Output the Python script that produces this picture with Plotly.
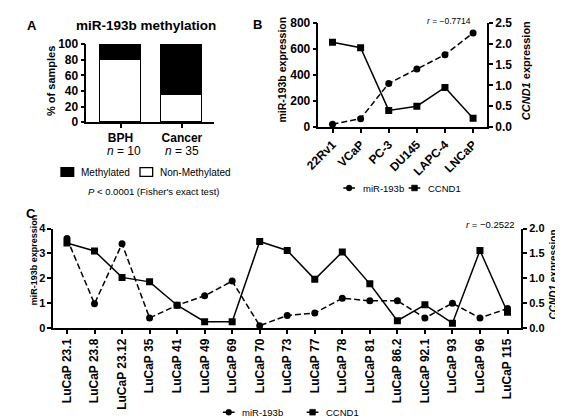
import plotly.graph_objects as go

W, H = 563, 418
FONT = "Liberation Sans, Arial, sans-serif"

# ---- Panel A data ----
groups_a = ["BPH", "Cancer"]
n_a = [10, 35]
methylated_pct = [20.0, 65.7]
non_methylated_pct = [80.0, 34.3]

# ---- Panel B data ----
cell_lines = ["22Rv1", "VCaP", "PC-3", "DU145", "LAPC-4", "LNCaP"]
mir_b = [22, 65, 335, 445, 555, 722]
ccnd1_b = [2.03, 1.90, 0.40, 0.50, 0.95, 0.21]

# ---- Panel C data ----
xenografts = ["LuCaP 23.1", "LuCaP 23.8", "LuCaP 23.12", "LuCaP 35", "LuCaP 41",
              "LuCaP 49", "LuCaP 69", "LuCaP 70", "LuCaP 73", "LuCaP 77",
              "LuCaP 78", "LuCaP 81", "LuCaP 86.2", "LuCaP 92.1", "LuCaP 93",
              "LuCaP 96", "LuCaP 115"]
mir_c = [3.60, 0.98, 3.39, 0.41, 0.92, 1.30, 1.89, 0.10, 0.51, 0.61,
         1.20, 1.10, 1.10, 0.41, 1.00, 0.41, 0.79]
ccnd1_c = [1.71, 1.55, 1.02, 0.93, 0.46, 0.13, 0.13, 1.74, 1.56, 0.98,
           1.53, 0.89, 0.15, 0.47, 0.10, 1.56, 0.32]


def PX(x):
    return x / W


def PY(y):
    return 1 - y / H


fig = go.Figure()

# Panel A bars
fig.add_trace(go.Bar(x=groups_a, y=non_methylated_pct, width=0.667,
                     marker=dict(color="white", line=dict(color="black", width=1.4)),
                     xaxis="x", yaxis="y", showlegend=False))
fig.add_trace(go.Bar(x=groups_a, y=methylated_pct, width=0.667,
                     marker=dict(color="black", line=dict(color="black", width=1.4)),
                     xaxis="x", yaxis="y", showlegend=False))

DASH = "6px,3px"
# Panel B
fig.add_trace(go.Scatter(x=cell_lines, y=mir_b, mode="lines+markers",
                         line=dict(color="black", width=1.5, dash=DASH),
                         marker=dict(symbol="circle", size=7, color="black"),
                         xaxis="x2", yaxis="y2", showlegend=False))
fig.add_trace(go.Scatter(x=cell_lines, y=ccnd1_b, mode="lines+markers",
                         line=dict(color="black", width=1.5),
                         marker=dict(symbol="square", size=7, color="black"),
                         xaxis="x2", yaxis="y3", showlegend=False))
# Panel C
fig.add_trace(go.Scatter(x=xenografts, y=mir_c, mode="lines+markers",
                         line=dict(color="black", width=1.5, dash=DASH),
                         marker=dict(symbol="circle", size=7, color="black"),
                         xaxis="x3", yaxis="y4", showlegend=False))
fig.add_trace(go.Scatter(x=xenografts, y=ccnd1_c, mode="lines+markers",
                         line=dict(color="black", width=1.5),
                         marker=dict(symbol="square", size=7, color="black"),
                         xaxis="x3", yaxis="y5", showlegend=False))

axis_common = dict(showline=True, linecolor="black", linewidth=1.5, ticks="outside",
                   ticklen=4, tickwidth=1.5, tickcolor="black", showgrid=False,
                   zeroline=False, fixedrange=True)
tickf = dict(family=FONT, size=12, color="black", weight="bold")
tickf_c = dict(family=FONT, size=11, color="black", weight="bold")

fig.update_layout(
    width=W, height=H, margin=dict(l=0, r=0, t=0, b=0),
    paper_bgcolor="white", plot_bgcolor="white", barmode="stack", bargap=0,
    showlegend=False, font=dict(family=FONT, color="black"),
    xaxis=dict(domain=[PX(66), PX(197)], anchor="y", range=[-0.556, 1.524],
               tickfont=tickf, **axis_common),
    yaxis=dict(domain=[PY(111), PY(30)], anchor="x", range=[0, 100], dtick=20,
               tickfont=tickf, **axis_common),
    xaxis2=dict(domain=[PX(304), PX(477)], anchor="y2", range=[-0.5, 5.5],
                tickangle=-45, tickfont=tickf, **axis_common),
    yaxis2=dict(domain=[PY(116), PY(8)], anchor="x2", range=[0, 800], dtick=200,
                tickfont=tickf, **axis_common),
    yaxis3=dict(domain=[PY(116), PY(8)], anchor="x2", overlaying="y2", side="right",
                range=[0, 2.5], dtick=0.5, tickformat=".1f", tickfont=tickf, **axis_common),
    xaxis3=dict(domain=[PX(32), PX(512)], anchor="y4", range=[-0.5, 16.5],
                tickangle=-90, tickfont=tickf, **axis_common),
    yaxis4=dict(domain=[PY(324), PY(221)], anchor="x3", range=[0, 4], dtick=1,
                tickfont=tickf_c, **axis_common),
    yaxis5=dict(domain=[PY(324), PY(221)], anchor="x3", overlaying="y4", side="right",
                range=[0, 2], dtick=0.5, tickformat=".1f", tickfont=tickf_c, **axis_common),
)

ann = []


def text(x, y, s, size, bold=False, xanchor="center", angle=0):
    ann.append(dict(x=PX(x), y=PY(y), xref="paper", yref="paper", text=s,
                    showarrow=False, xanchor=xanchor, yanchor="middle", textangle=angle,
                    font=dict(family=FONT, size=size, color="black",
                              weight="bold" if bold else "normal")))


# Panel letters and titles
text(10, 11, "A", 13, bold=True)
text(242, 10, "B", 13, bold=True)
text(9, 205, "C", 13, bold=True)
text(127, 11, "miR-193b methylation", 13.5, bold=True)

# Axis titles
text(29, 68, "% of samples", 11, bold=True, angle=-90)
text(267, 56, "miR-193b expression", 10.5, bold=True, angle=-90)
text(517, 58, "<i>CCND1</i> expression", 11, bold=True, angle=-90)
text(12, 253, "miR-193b expression", 9, bold=True, angle=-90)
text(545, 268, "<i>CCND1</i> expression", 10, bold=True, angle=-90)

# n labels
text(105, 141, f"<i>n</i> = {n_a[0]}", 12)
text(164, 141, f"<i>n</i> = {n_a[1]}", 12)

# correlation labels
text(438, 6, "<i>r</i> = \u22120.7714", 8.5)
text(480, 217, "<i>r</i> = \u22120.2522", 9.5)

# P value
text(135, 183, "<i>P</i> &lt; 0.0001 (Fisher's exact test)", 9.5)

shapes = []
# Legend A
shapes.append(dict(type="rect", xref="paper", yref="paper", x0=PX(40), x1=PX(53),
                   y0=PY(167), y1=PY(158), fillcolor="black", line=dict(color="black", width=1.3)))
text(58, 162.5, "Methylated", 10, xanchor="left")
shapes.append(dict(type="rect", xref="paper", yref="paper", x0=PX(121), x1=PX(134),
                   y0=PY(167), y1=PY(158), fillcolor="white", line=dict(color="black", width=1.3)))
text(139, 162.5, "Non-Methylated", 10, xanchor="left")


def legend_item(cx, cy, symbol, label, size=9.5):
    shapes.append(dict(type="line", xref="paper", yref="paper", x0=PX(cx - 6), x1=PX(cx + 6),
                       y0=PY(cy), y1=PY(cy), line=dict(color="black", width=1.5)))
    r = 3
    shapes.append(dict(type="circle" if symbol == "circle" else "rect", xref="paper", yref="paper",
                       x0=PX(cx - r), x1=PX(cx + r), y0=PY(cy + r), y1=PY(cy - r),
                       fillcolor="black", line=dict(color="black", width=0.5)))
    text(cx + 12, cy, label, size, xanchor="left")


legend_item(335.5, 179, "circle", "miR-193b")
legend_item(402.5, 179, "square", "CCND1")
legend_item(212, 411, "circle", "miR-193b")
legend_item(298, 411, "square", "CCND1")

fig.update_layout(annotations=ann, shapes=shapes)
fig.write_html("out.html")
